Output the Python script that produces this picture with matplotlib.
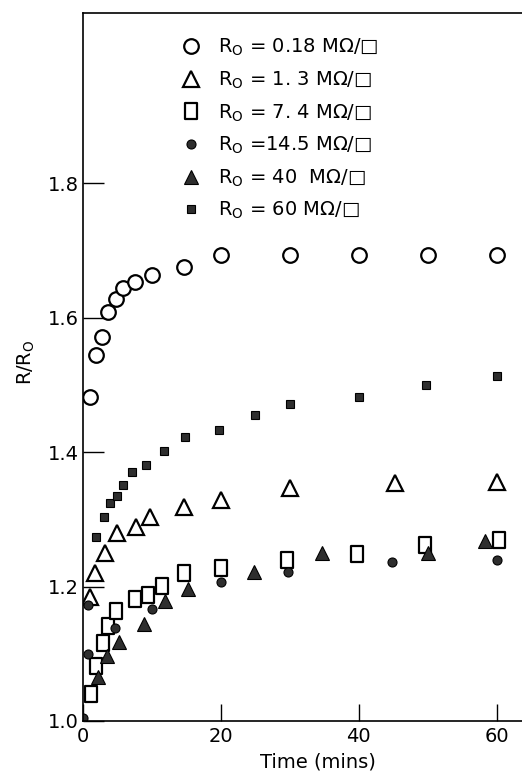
import matplotlib
matplotlib.use("Agg")
import matplotlib.pyplot as plt
from matplotlib.path import Path

# ---- data ----
t_018 = [1, 2, 2.8, 3.7, 4.8, 5.8, 7.6, 10, 14.7, 20, 30, 40, 50, 60]
y_018 = [1.482, 1.545, 1.572, 1.609, 1.628, 1.645, 1.653, 1.664, 1.676, 1.693, 1.693, 1.693, 1.693, 1.693]

t_13 = [1, 1.8, 3.2, 5, 7.7, 9.8, 14.7, 20, 30, 45.3, 60]
y_13 = [1.185, 1.22, 1.25, 1.28, 1.289, 1.303, 1.318, 1.329, 1.347, 1.354, 1.356]

t_74 = [1.2, 1.9, 3.0, 3.7, 4.9, 7.6, 9.4, 11.5, 14.7, 20, 29.6, 39.7, 49.6, 60.3]
y_74 = [1.04, 1.082, 1.116, 1.141, 1.163, 1.182, 1.188, 1.201, 1.22, 1.228, 1.24, 1.248, 1.262, 1.269]

t_145 = [0.1, 0.7, 0.7, 4.7, 10, 20, 29.7, 44.9, 60]
y_145 = [1.005, 1.1, 1.172, 1.138, 1.167, 1.207, 1.222, 1.237, 1.24]

t_40 = [2.2, 3.5, 5.3, 8.9, 12, 15.3, 24.9, 34.7, 50, 58.3]
y_40 = [1.066, 1.097, 1.117, 1.145, 1.178, 1.196, 1.221, 1.25, 1.25, 1.268]

t_60 = [2, 3.1, 3.9, 5, 5.9, 7.1, 9.2, 11.8, 14.8, 19.8, 25, 30, 40, 49.7, 60.1]
y_60 = [1.274, 1.303, 1.324, 1.335, 1.351, 1.37, 1.381, 1.402, 1.423, 1.433, 1.455, 1.472, 1.482, 1.5, 1.513]

labels = [
    r"R$_\mathrm{O}$ = 0.18 MΩ/□",
    r"R$_\mathrm{O}$ = 1. 3 MΩ/□",
    r"R$_\mathrm{O}$ = 7. 4 MΩ/□",
    r"R$_\mathrm{O}$ =14.5 MΩ/□",
    r"R$_\mathrm{O}$ = 40  MΩ/□",
    r"R$_\mathrm{O}$ = 60 MΩ/□",
]
x_ticks = [0, 20, 40, 60]
y_ticks = [1.0, 1.2, 1.4, 1.6, 1.8]
y_tick_labels = ["1.0", "1.2", "1.4", "1.6", "1.8"]

# ---- figure ----
fig = plt.figure(figsize=(5.22, 7.77), dpi=100)
ax = fig.add_axes([0.1584, 0.0721, 0.8416, 0.9112])

dark = "#2e2e2e"
rect = Path([(-0.78, -1), (0.78, -1), (0.78, 1), (-0.78, 1), (-0.78, -1)],
            [Path.MOVETO, Path.LINETO, Path.LINETO, Path.LINETO, Path.CLOSEPOLY])

ax.plot(t_018, y_018, ls="none", marker="o", ms=10.5, mfc="white", mec="black", mew=1.6, label=labels[0])
ax.plot(t_13, y_13, ls="none", marker="^", ms=11.5, mfc="white", mec="black", mew=1.6, label=labels[1])
ax.plot(t_74, y_74, ls="none", marker=rect, ms=11, mfc="white", mec="black", mew=1.6, label=labels[2])
ax.plot(t_145, y_145, ls="none", marker="o", ms=6.5, mfc=dark, mec="black", mew=0.8, label=labels[3])
ax.plot(t_40, y_40, ls="none", marker="^", ms=10, mfc=dark, mec="black", mew=0.8, label=labels[4])
ax.plot(t_60, y_60, ls="none", marker="s", ms=6, mfc=dark, mec="black", mew=0.8, label=labels[5])

ax.set_xlim(0, 63.67)
ax.set_ylim(1.0, 2.0536)

ax.set_xticks(x_ticks)
ax.set_yticks(y_ticks)
ax.set_yticklabels(y_tick_labels)
ax.tick_params(axis="both", direction="in", labelsize=14, width=1.0, color="black")
ax.tick_params(axis="y", length=15, pad=3)
ax.tick_params(axis="x", length=12, pad=4)

for s in ["left", "bottom", "top"]:
    ax.spines[s].set_linewidth(1.2)
ax.spines["right"].set_visible(False)

ax.set_xlabel("Time (mins)", fontsize=14)
ax.xaxis.set_label_coords(0.536, -0.045)
ax.set_ylabel(r"R/R$_\mathrm{O}$", fontsize=14)
ax.yaxis.set_label_coords(-0.105, 0.507)

leg = ax.legend(loc="upper left", bbox_to_anchor=(0.225, 0.966), frameon=False,
                fontsize=14, handlelength=1.0, handletextpad=0.85, labelspacing=0.58,
                borderpad=0, borderaxespad=0, numpoints=1)

fig.savefig("out.png", dpi=100)
